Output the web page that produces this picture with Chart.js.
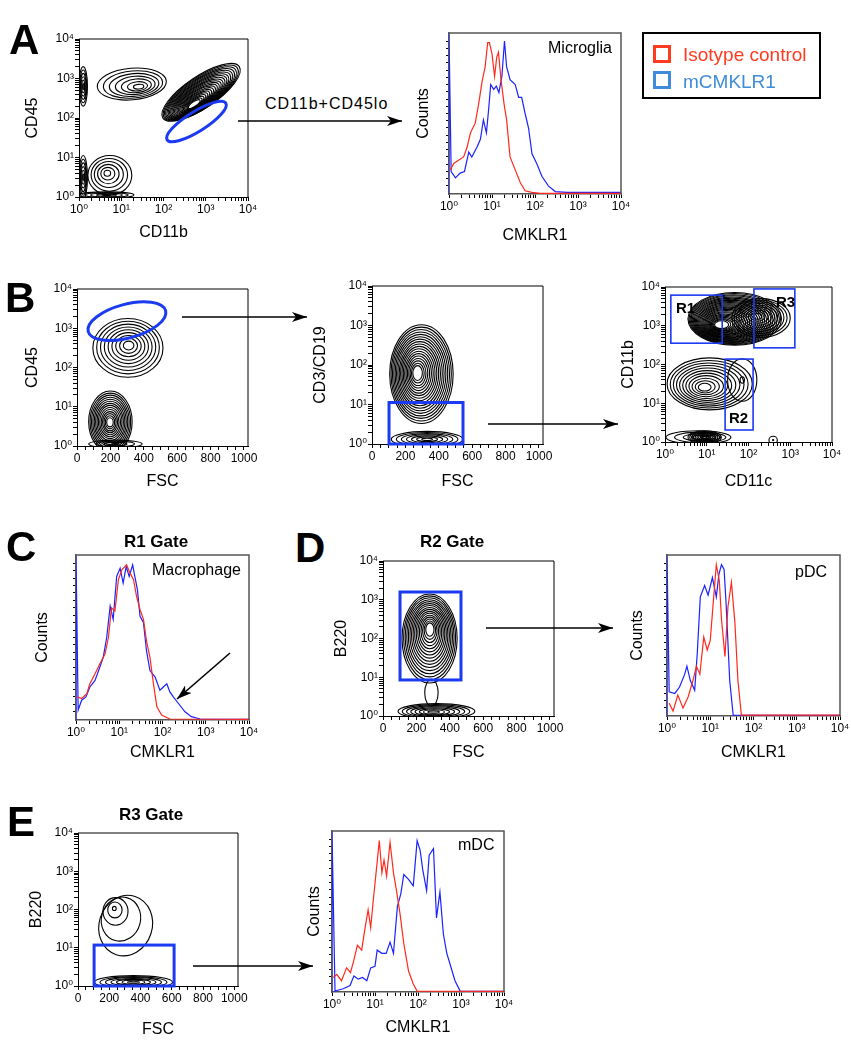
<!DOCTYPE html>
<html>
<head>
<meta charset="utf-8">
<script src="https://cdn.jsdelivr.net/npm/chart.js@4.4.1/dist/chart.umd.min.js"></script>
<style>
body { margin: 0; width: 851px; height: 1050px; position: relative; overflow: hidden; background: #fff;
       font-family: "Liberation Sans", Arial, sans-serif; color: #000; }
canvas { position: absolute; }
.t { position: absolute; line-height: 1; white-space: nowrap; }
.letter { font-size: 42px; font-weight: bold; }
.gate { font-size: 17px; font-weight: bold; width: 120px; text-align: center; }
.note { font-size: 16px; }
.rlab { font-size: 15px; font-weight: bold; }
#legend { position: absolute; left: 642px; top: 32px; width: 175px; height: 63px; border: 2px solid #000; }
.sq { position: absolute; left: 9px; width: 12px; height: 12px; border: 3px solid; }
.lt { position: absolute; left: 39px; font-size: 19px; line-height: 1; white-space: nowrap; }
svg { position: absolute; left: 0; top: 0; }
</style>
</head>
<body>
<script>
// tick labels
const decadeLabels = ['10⁰', '10¹', '10²', '10³', '10⁴'];
const fscLabels = ['0', '200', '400', '600', '800', '1000'];

// histograms: x = log10(CMKLR1 intensity), y = % of tallest bin
const isoMicroX = [0.03,0.11,0.22,0.34,0.42,0.50,0.61,0.69,0.77,0.84,0.90,0.94,1.00,1.06,1.11,1.15,1.21,1.28,1.34,1.42,1.54,1.66,1.77,1.93,2.12,4.00];
const isoMicroY = [15,19,21,23,29,38,44,56,70,79,94,94,87,73,85,88,71,56,46,23,15,7,2,1,0.4,0.4];
const cmkMicroX = [0,0,0.05,0.15,0.26,0.36,0.46,0.53,0.65,0.73,0.80,0.87,0.92,0.97,1.04,1.10,1.16,1.23,1.29,1.34,1.42,1.54,1.62,1.69,1.77,1.85,1.93,2.04,2.16,2.31,2.47,2.74,4.00];
const cmkMicroY = [0,100,14,10,13,14,26,23,29,34,46,38,52,68,65,67,63,73,95,79,71,68,60,60,50,41,25,19,11,5,1.5,1,1];

const isoMacX = [0.03,0.13,0.25,0.32,0.44,0.55,0.67,0.75,0.82,0.90,0.98,1.06,1.17,1.25,1.33,1.40,1.48,1.56,1.63,1.71,1.79,1.87,1.98,2.17,4.00];
const isoMacY = [14,13,16,22,28,34,40,50,68,66,85,91,94,89,85,75,67,61,48,38,22,8,3,0.6,0.4];
const cmkMacX = [0,0,0.05,0.13,0.23,0.32,0.44,0.55,0.63,0.71,0.79,0.86,0.94,1.02,1.09,1.16,1.23,1.31,1.36,1.42,1.48,1.56,1.63,1.71,1.83,1.94,2.02,2.10,2.17,2.25,2.37,2.52,2.67,2.87,4.00];
const cmkMacY = [0,100,6,12,14,20,24,32,38,50,69,61,87,92,83,93,87,94,87,79,63,59,42,30,26,18,20,22,17,14,10,5,2,0.6,0.4];

const isoPdcX = [0.05,0.14,0.25,0.37,0.49,0.60,0.68,0.76,0.85,0.93,1.00,1.08,1.14,1.21,1.26,1.34,1.41,1.49,1.57,1.64,1.72,4.00];
const isoPdcY = [8,3,13,5,12,22,31,26,49,41,47,74,94,84,60,37,68,83,58,22,0.6,0.5];
const cmkPdcX = [0,0,0.05,0.18,0.29,0.41,0.46,0.54,0.64,0.70,0.77,0.87,0.95,1.05,1.14,1.20,1.26,1.32,1.37,1.45,1.53,4.00];
const cmkPdcY = [0,100,15,14,18,26,31,22,16,39,74,81,75,86,74,88,94,91,68,22,0.6,0.4];

const isoMdcX = [0.03,0.11,0.22,0.34,0.43,0.51,0.59,0.69,0.77,0.84,0.90,0.96,1.04,1.10,1.16,1.21,1.27,1.35,1.43,1.50,1.58,1.67,1.78,1.89,1.98,4.00];
const isoMdcY = [9,11,7,15,12,20,29,26,40,51,40,57,78,94,74,82,72,93,74,63,49,30,13,5,0.6,0.4];
const cmkMdcX = [0,0,0.07,0.26,0.42,0.51,0.61,0.71,0.81,0.90,1.00,1.05,1.16,1.26,1.35,1.43,1.52,1.60,1.67,1.78,1.89,1.98,2.05,2.11,2.20,2.26,2.36,2.43,2.51,2.59,2.67,2.76,2.86,2.98,4.00];
const cmkMdcY = [0,100,0.6,2,4,10,8,9,7,15,16,26,24,24,31,24,53,61,73,70,66,94,88,76,63,85,89,46,62,36,24,16,7,0.6,0.4];

// contour populations: [centre x, centre y, spread x, spread y, tilt deg, rings, peak x, peak y]
// log axes in decades (log10), FSC in channels
const popsMicroglia = [
    [1.25, 2.86, 0.82, 0.40, -5, 7, 1.44, 2.78],
    [2.89, 2.65, 1.09, 0.40, -34, 22, 2.70, 2.30],
    [0.73, 0.55, 0.52, 0.50, 0, 6, 0.66, 0.61],
    [0.10, 2.80, 0.10, 0.50, 0, 6, 0.10, 2.80],
    [0.10, 0.50, 0.10, 0.55, 0, 6, 0.10, 0.50],
    [0.65, 0.05, 0.65, 0.08, 0, 5, 0.65, 0.05]
];
const popsBlood = [
    [305, 2.50, 210, 0.75, 0, 9, 310, 2.57],
    [200, 0.62, 130, 0.78, 0, 14, 197, 0.60],
    [230, 0.05, 160, 0.10, 0, 4, 230, 0.05]
];
const popsCd45 = [
    [296, 1.77, 190, 1.25, 0, 18, 269, 1.80],
    [330, 0.12, 215, 0.20, 0, 7, 330, 0.12]
];
const popsMyeloid = [
    [1.67, 3.18, 1.12, 0.68, 0, 26, 1.30, 3.00],
    [2.30, 3.20, 0.70, 0.50, 0, 10, 2.20, 3.25],
    [1.07, 1.50, 1.02, 0.67, 0, 11, 0.93, 1.40],
    [1.85, 1.60, 0.35, 0.55, 0, 2, 1.85, 1.60],
    [0.80, 0.12, 0.78, 0.17, 0, 5, 1.00, 0.12],
    [0.95, 0.12, 0.40, 0.17, 0, 9, 0.95, 0.12],
    [2.59, 0.05, 0.10, 0.10, 0, 2, 2.59, 0.05]
];
const popsR2 = [
    [279, 2.00, 165, 1.15, 0, 16, 281, 2.27],
    [290, 0.60, 40, 0.35, 0, 1, 290, 0.60],
    [320, 0.12, 230, 0.20, 0, 8, 300, 0.10]
];
const popsR3 = [
    [305, 1.58, 170, 0.80, 18, 1, 305, 1.58],
    [275, 1.75, 125, 0.58, 15, 1, 275, 1.75],
    [240, 1.95, 80, 0.36, 0, 3, 231, 2.04],
    [355, 0.10, 250, 0.17, 0, 7, 355, 0.10]
];

// gates: ellipses [centre x, centre y, half x, half y, tilt], boxes [x0, x1, y0, y1, name]
const gateMicroglia = [[2.78, 1.91, 0.82, 0.25, -32]];
const gateCd45 = [[299, 3.18, 240, 0.43, -15]];
const gateNonLymph = [[102, 545, 0, 1.05]];
const gatesMyeloid = [[0.14, 1.37, 2.55, 3.79, 'R1'], [1.44, 2.11, 0.31, 2.14, 'R2'], [2.13, 3.11, 2.43, 3.95, 'R3']];
const gateR2 = [[102, 467, 0.93, 3.20]];
const gateR3 = [[103, 615, 0, 1.07]];

const RED = '#ff2a1c';
const BLUE = '#1a22ff';
const GATE_BLUE = '#1b3bf2';
const FONT = '"Liberation Sans", "DejaVu Sans", Arial, sans-serif';

function toPx(scale, v) {
    return scale.getPixelForValue(scale.type === 'logarithmic' ? Math.pow(10, v) : v);
}

function flowLayer(spec) {
    return {
        id: 'flowLayer',
        afterDatasetsDraw(chart) {
            const ctx = chart.ctx;
            const a = chart.chartArea;
            const sx = chart.scales.x, sy = chart.scales.y;
            ctx.save();
            ctx.beginPath();
            ctx.rect(a.left, a.top, a.width, a.height);
            ctx.clip();
            ctx.strokeStyle = '#000';
            ctx.lineWidth = 1.1;
            (spec.pops || []).forEach(([cx, cy, rx, ry, tilt, rings, pkx, pky]) => {
                for (let k = rings; k >= 1; k--) {
                    let t = rings == 1 ? 1 : 0.15 + 0.85 * (k - 1) / (rings - 1);
                    let mx = pkx + (cx - pkx) * t;
                    let my = pky + (cy - pky) * t;
                    let X = toPx(sx, mx), Y = toPx(sy, my);
                    let w = Math.abs(toPx(sx, mx + rx * t) - X);
                    let h = Math.abs(toPx(sy, my + ry * t) - Y);
                    ctx.beginPath();
                    ctx.ellipse(X, Y, w, h, tilt * Math.PI / 180, 0, 2 * Math.PI);
                    ctx.stroke();
                }
            });
            ctx.restore();

            ctx.save();
            ctx.strokeStyle = spec.frameColor;
            ctx.lineWidth = spec.frameWidth;
            ctx.beginPath();
            ctx.moveTo(a.left, a.top);
            ctx.lineTo(a.right, a.top);
            ctx.lineTo(a.right, a.bottom);
            ctx.stroke();

            ctx.strokeStyle = GATE_BLUE;
            ctx.lineWidth = spec.gateWidth || 3;
            (spec.ellipses || []).forEach(([cx, cy, rx, ry, tilt]) => {
                let X = toPx(sx, cx), Y = toPx(sy, cy);
                ctx.beginPath();
                ctx.ellipse(X, Y, Math.abs(toPx(sx, cx + rx) - X), Math.abs(toPx(sy, cy + ry) - Y),
                    tilt * Math.PI / 180, 0, 2 * Math.PI);
                ctx.stroke();
            });
            (spec.boxes || []).forEach(([x0, x1, y0, y1]) => {
                let X0 = toPx(sx, x0), X1 = toPx(sx, x1), Y0 = toPx(sy, y0), Y1 = toPx(sy, y1);
                ctx.strokeRect(X0, Y1, X1 - X0, Y0 - Y1);
            });
            ctx.restore();
        }
    };
}

const gridOpts = (len) => ({ display: true, drawOnChartArea: false, drawTicks: true, tickLength: len, tickColor: '#000', tickWidth: 1 });
const titleOpts = (text) => ({ display: true, text: text, color: '#000', padding: 0, font: { family: FONT, size: 16, lineHeight: 1 } });
const tickFont = { family: FONT, size: 12 };

function logAxis(title) {
    return {
        type: 'logarithmic', min: 1, max: 10000,
        afterBuildTicks: (s) => {
            let t = [];
            for (let e = 0; e < 4; e++) {
                for (let m = 1; m < 10; m++) t.push({ value: m * Math.pow(10, e) });
            }
            t.push({ value: 10000 });
            s.ticks = t;
        },
        ticks: {
            autoSkip: false, maxRotation: 0, minRotation: 0, padding: 1, color: '#000', font: tickFont,
            callback: (v) => {
                let e = Math.round(Math.log10(v));
                return Math.abs(Math.pow(10, e) - v) < 1e-6 ? decadeLabels[e] : '';
            }
        },
        grid: gridOpts(4),
        title: titleOpts(title)
    };
}

function fscAxis(title) {
    return {
        type: 'linear', min: 0, max: 1024,
        afterBuildTicks: (s) => {
            let t = [];
            for (let v = 0; v <= 1000; v += 50) t.push({ value: v });
            s.ticks = t;
        },
        ticks: {
            autoSkip: false, maxRotation: 0, minRotation: 0, padding: 1, color: '#000', font: tickFont,
            callback: (v) => v % 200 == 0 ? fscLabels[v / 200] : ''
        },
        grid: gridOpts(4),
        title: titleOpts(title)
    };
}

function countAxis() {
    return {
        type: 'linear', min: 0, max: 100,
        afterBuildTicks: (s) => {
            let t = [];
            for (let v = 5; v <= 95; v += 4.5) t.push({ value: v });
            s.ticks = t;
        },
        ticks: { autoSkip: false, padding: 0, callback: () => '' },
        grid: gridOpts(3),
        title: titleOpts('Counts')
    };
}

function series(xs, ys, color) {
    return {
        data: xs.map((e, i) => ({ x: Math.pow(10, e), y: ys[i] })),
        showLine: true, borderColor: color, borderWidth: 1.2, pointRadius: 0, tension: 0, fill: false
    };
}

function makePlot(p) {
    const mt = 10, mr = 14;
    const left = Math.round(p.yTitleX - 8);
    const top = p.area.t - mt;
    const bottom = Math.round(p.xTitleY + 8);
    const right = p.area.r + mr;
    const ml = p.area.l - left;
    const mb = bottom - p.area.b;
    const canvas = document.createElement('canvas');
    canvas.width = right - left;
    canvas.height = bottom - top;
    canvas.style.left = left + 'px';
    canvas.style.top = top + 'px';
    document.body.appendChild(canvas);

    const border = { display: true, color: p.frameColor, width: p.frameWidth };
    const xs = Object.assign(p.x, { border: border, afterFit: (s) => { s.height = mb; } });
    const ys = Object.assign(p.y, { border: border, afterFit: (s) => { s.width = ml; } });

    return new Chart(canvas, {
        type: 'scatter',
        data: { datasets: p.datasets || [{ data: [] }] },
        options: {
            responsive: false, animation: false, devicePixelRatio: 1,
            layout: { padding: { left: 0, top: mt, right: mr, bottom: 0 } },
            plugins: { legend: { display: false }, tooltip: { enabled: false } },
            scales: { x: xs, y: ys }
        },
        plugins: [flowLayer(p)]
    });
}

function contour(area, yTitleX, xTitleY, x, y, pops, extra) {
    return makePlot(Object.assign({
        area: area, yTitleX: yTitleX, xTitleY: xTitleY, x: x, y: y, pops: pops,
        frameColor: '#000', frameWidth: 1
    }, extra));
}

function histogram(area, yTitleX, xTitleY, isoX, isoY, cmkX, cmkY) {
    return makePlot({
        area: area, yTitleX: yTitleX, xTitleY: xTitleY,
        x: logAxis('CMKLR1'), y: countAxis(),
        datasets: [series(isoX, isoY, RED), series(cmkX, cmkY, BLUE)],
        frameColor: '#555', frameWidth: 1.5
    });
}

// A
contour({ l: 79, t: 39, r: 248, b: 197 }, 33, 233, logAxis('CD11b'), logAxis('CD45'), popsMicroglia, { ellipses: gateMicroglia });
histogram({ l: 449, t: 33, r: 621, b: 194 }, 424, 236, isoMicroX, isoMicroY, cmkMicroX, cmkMicroY);
// B
contour({ l: 77, t: 289, r: 248, b: 446 }, 33, 482, fscAxis('FSC'), logAxis('CD45'), popsBlood, { ellipses: gateCd45 });
contour({ l: 372, t: 286, r: 543, b: 444 }, 321, 482, fscAxis('FSC'), logAxis('CD3/CD19'), popsCd45, { boxes: gateNonLymph });
contour({ l: 665, t: 287, r: 832, b: 442 }, 629, 482, logAxis('CD11c'), logAxis('CD11b'), popsMyeloid, { boxes: gatesMyeloid, gateWidth: 1.6 });
// C
histogram({ l: 76, t: 555, r: 249, b: 720 }, 43, 753, isoMacX, isoMacY, cmkMacX, cmkMacY);
// D
contour({ l: 383, t: 561, r: 554, b: 716 }, 342, 753, fscAxis('FSC'), logAxis('B220'), popsR2, { boxes: gateR2 });
histogram({ l: 667, t: 555, r: 840, b: 716 }, 638, 753, isoPdcX, isoPdcY, cmkPdcX, cmkPdcY);
// E
contour({ l: 78, t: 833, r: 238, b: 986 }, 37, 1030, fscAxis('FSC'), logAxis('B220'), popsR3, { boxes: gateR3 });
histogram({ l: 332, t: 831, r: 504, b: 992 }, 315, 1028, isoMdcX, isoMdcY, cmkMdcX, cmkMdcY);
</script>

<div class="t letter" style="left:9px;top:19px">A</div>
<div class="t letter" style="left:5px;top:277px">B</div>
<div class="t letter" style="left:6px;top:526px">C</div>
<div class="t letter" style="left:295px;top:527px">D</div>
<div class="t letter" style="left:7px;top:801px">E</div>

<div class="t gate" style="left:96px;top:533px">R1 Gate</div>
<div class="t gate" style="left:392px;top:533px">R2 Gate</div>
<div class="t gate" style="left:91px;top:806px">R3 Gate</div>

<div class="t note" style="left:265px;top:96px;letter-spacing:1px">CD11b+CD45lo</div>
<div class="t note" style="left:548px;top:40px">Microglia</div>
<div class="t note" style="left:152px;top:562px">Macrophage</div>
<div class="t note" style="left:795px;top:564px">pDC</div>
<div class="t note" style="left:458px;top:837px">mDC</div>

<div class="t rlab" style="left:676px;top:300px">R1</div>
<div class="t rlab" style="left:776px;top:294px">R3</div>
<div class="t rlab" style="left:729px;top:410px">R2</div>

<div id="legend">
  <div class="sq" style="top:11px;border-color:#ff3b1f"></div>
  <div class="lt" style="top:11px;color:#ff3b1f">Isotype control</div>
  <div class="sq" style="top:37px;border-color:#3f8cd8"></div>
  <div class="lt" style="top:38px;color:#3f8cd8">mCMKLR1</div>
</div>

<svg width="851" height="1050">
  <defs>
    <marker id="head" markerUnits="userSpaceOnUse" markerWidth="15" markerHeight="10" refX="15" refY="5" orient="auto">
      <path d="M0,0 L15,5 L0,10 L4,5 z" fill="#000"/>
    </marker>
  </defs>
  <g stroke="#000" stroke-width="1.6" fill="none">
    <line x1="238" y1="121" x2="402" y2="121" marker-end="url(#head)"/>
    <line x1="182" y1="317" x2="307" y2="317" marker-end="url(#head)"/>
    <line x1="488" y1="424" x2="618" y2="424" marker-end="url(#head)"/>
    <line x1="486" y1="628" x2="613" y2="628" marker-end="url(#head)"/>
    <line x1="193" y1="966" x2="313" y2="966" marker-end="url(#head)"/>
    <line x1="230" y1="653" x2="177" y2="699" marker-end="url(#head)"/>
  </g>
</svg>
</body>
</html>
